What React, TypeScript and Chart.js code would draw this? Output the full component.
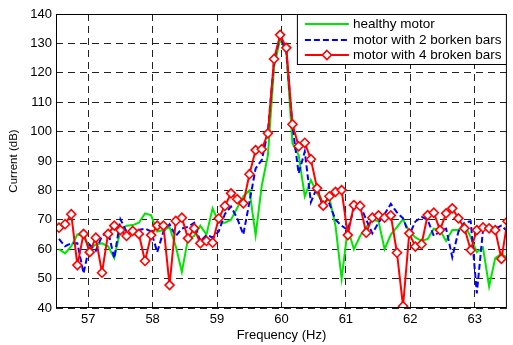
import React, { useEffect, useRef } from 'react';
import { Chart, registerables } from 'chart.js';

Chart.register(...registerables);

// Frequency grid (Hz) of the spectrum samples
const freqHz = [
  56.546, 56.641, 56.737, 56.832, 56.928, 57.023, 57.118, 57.214, 57.309, 57.405,
  57.500, 57.595, 57.691, 57.786, 57.882, 57.977, 58.072, 58.168, 58.263, 58.359,
  58.454, 58.549, 58.645, 58.740, 58.836, 58.931, 59.026, 59.122, 59.217, 59.313,
  59.408, 59.503, 59.599, 59.694, 59.790, 59.885, 59.980, 60.076, 60.171, 60.267,
  60.362, 60.457, 60.553, 60.648, 60.744, 60.839, 60.934, 61.030, 61.125, 61.221,
  61.316, 61.411, 61.507, 61.602, 61.698, 61.793, 61.888, 61.984, 62.079, 62.175,
  62.270, 62.365, 62.461, 62.556, 62.652, 62.747, 62.842, 62.938, 63.033, 63.129,
  63.224, 63.319, 63.415, 63.510,
];

// Current spectrum (dB)
const healthyMotor = [
  60, 58.6, 61, 65, 64.5, 60.5, 61.5, 62, 61, 57,
  66.5, 68, 68.2, 69, 72.2, 71.5, 66, 66.5, 67.5, 61,
  52.3, 63.5, 64.5, 68, 65, 73.9, 69, 69, 70, 74,
  78, 80, 64.8, 81.5, 92, 122, 131.5, 127, 96, 92,
  78, 83.5, 79, 75.6, 77.5, 68, 50, 67, 60, 64.5,
  67.5, 70, 69.5, 60, 65, 67.5, 70.2, 66, 64, 62.8,
  63.5, 67, 66.5, 62.8, 66.5, 66.5, 68.5, 64, 59, 60.5,
  47.3, 57, 58.5, 57,
];

const twoBrokenBars = [
  63.5, 61, 62, 62, 51.8, 61.5, 59.5, 64.5, 66, 56.9,
  70.2, 66, 67, 66.5, 67, 66, 59, 66, 68.5, 64.5,
  67, 67.6, 69, 62.6, 64.8, 64, 66, 72, 74.5, 70.5,
  65, 76, 87.5, 90.3, 100, 124, 132.5, 127, 102, 85.8,
  93.2, 76, 81, 74, 75.5, 70, 68, 66.5, 73.9, 75,
  70, 65.4, 69, 72, 75.4, 72.5, 70.5, 64.8, 69.4, 71,
  70, 64.5, 66, 67, 57.3, 66, 69, 69.5, 45, 66.5,
  67.6, 67, 68, 66,
];

const fourBrokenBars = [
  67.3, 68.5, 71.9, 54.6, 65.2, 59.0, 63.9, 52, 65.2, 68.0,
  66.5, 64.5, 66.2, 65.2, 56.0, 64.8, 68.0, 68.0, 47.8, 69.6,
  70.7, 63.7, 67.1, 62.0, 62.8, 62.2, 70.5, 74.7, 79.0, 77.0,
  75.6, 85.5, 93.7, 94.0, 99.4, 124.7, 132.9, 128.5, 102.5, 95.0,
  96.2, 90.6, 80.7, 74.8, 78.0, 79.5, 80.1, 64.8, 75.0, 74.7,
  65.6, 70.7, 71.5, 70.7, 71.5, 58.8, 40.6, 65.4, 60.9, 61.7,
  71.6, 72.4, 66.5, 72.2, 73.9, 70.5, 67.1, 59.7, 66.5, 67.4,
  67.1, 66.5, 56.7, 69.5,
];

const seriesLabels = ['healthy motor', 'motor with 2 borken bars', 'motor with 4 broken bars'];
const xTickValues = [57, 58, 59, 60, 61, 62, 63];
const xLabel = 'Frequency (Hz)';
const yLabel = 'Current (dB)';

const FONT = '"Liberation Sans", Arial, Helvetica, sans-serif';

const toPoints = (ys: number[]) => ys.map((y, i) => ({ x: freqHz[i], y }));

const drawDiamond = (ctx: CanvasRenderingContext2D, x: number, y: number, r: number) => {
  ctx.beginPath();
  ctx.moveTo(x, y - r);
  ctx.lineTo(x + r, y);
  ctx.lineTo(x, y + r);
  ctx.lineTo(x - r, y);
  ctx.closePath();
  ctx.fillStyle = '#fff';
  ctx.fill();
  ctx.stroke();
};

const frameAndLegend = {
  id: 'frameAndLegend',
  afterDatasetsDraw(chart: any) {
    const { ctx, chartArea: a } = chart;
    ctx.save();
    ctx.setLineDash([]);
    ctx.strokeStyle = '#000';
    ctx.lineWidth = 1;
    ctx.strokeRect(a.left + 0.5, a.top + 0.5, a.right - a.left - 1, a.bottom - a.top - 1);

    // legend box
    const w = 210;
    const h = 51;
    const x0 = a.right - w;
    const y0 = a.top;
    ctx.fillStyle = '#fff';
    ctx.fillRect(x0, y0, w, h);
    ctx.strokeStyle = '#000';
    ctx.strokeRect(x0 + 0.5, y0 + 0.5, w - 1, h - 1);

    const rows = [10, 26, 41];
    chart.data.datasets.forEach((ds: any, i: number) => {
      const yy = y0 + rows[i];
      ctx.save();
      ctx.strokeStyle = ds.borderColor;
      ctx.lineWidth = ds.borderWidth;
      ctx.setLineDash(ds.borderDash || []);
      ctx.beginPath();
      ctx.moveTo(x0 + 8, yy);
      ctx.lineTo(x0 + 52, yy);
      ctx.stroke();
      ctx.setLineDash([]);
      if (ds.pointRadius > 0) {
        ctx.lineWidth = ds.pointBorderWidth;
        drawDiamond(ctx, x0 + 30, yy, ds.pointRadius);
      }
      ctx.restore();
      ctx.fillStyle = '#000';
      ctx.font = `13.5px ${FONT}`;
      ctx.textAlign = 'left';
      ctx.textBaseline = 'middle';
      ctx.fillText(ds.label, x0 + 56, yy);
    });
    ctx.restore();
  },
};

export default function App() {
  const canvasRef = useRef<HTMLCanvasElement | null>(null);

  useEffect(() => {
    const canvas = canvasRef.current;
    if (!canvas) return;
    const chart = new Chart(canvas, {
      type: 'line',
      data: {
        datasets: [
          {
            label: seriesLabels[0],
            data: toPoints(healthyMotor),
            borderColor: '#00e600',
            borderWidth: 2,
            pointRadius: 0,
            tension: 0,
            order: 2,
            clip: 0,
          },
          {
            label: seriesLabels[1],
            data: toPoints(twoBrokenBars),
            borderColor: '#0000ff',
            borderWidth: 2,
            borderDash: [6, 3],
            pointRadius: 0,
            tension: 0,
            order: 1,
            clip: 0,
          },
          {
            label: seriesLabels[2],
            data: toPoints(fourBrokenBars),
            borderColor: '#ff0000',
            borderWidth: 2,
            pointStyle: 'rectRot',
            pointRadius: 4.5,
            pointBorderWidth: 1.6,
            pointBorderColor: '#ff0000',
            pointBackgroundColor: '#ffffff',
            tension: 0,
            order: 0,
            clip: 0,
          } as any,
        ],
      },
      options: {
        animation: false,
        responsive: false,
        maintainAspectRatio: false,
        layout: { padding: { top: 14, right: 1, left: 0, bottom: 0 } },
        plugins: {
          legend: { display: false },
          tooltip: { enabled: false },
        },
        scales: {
          x: {
            type: 'linear',
            min: 56.5,
            max: 63.5,
            afterBuildTicks: (s: any) => {
              s.ticks = xTickValues.map((v) => ({ value: v }));
            },
            afterFit: (s: any) => {
              s.height = 37;
            },
            grid: { color: '#222', lineWidth: 1, drawTicks: false },
            border: { display: false, dash: [7, 5] },
            ticks: {
              color: '#000',
              padding: 4,
              font: { family: FONT, size: 13 },
              maxRotation: 0,
              callback: (v: any) => String(v),
            },
            title: {
              display: true,
              text: xLabel,
              color: '#000',
              font: { family: FONT, size: 13 },
              padding: { top: 0, bottom: 2 },
            },
          },
          y: {
            type: 'linear',
            min: 40,
            max: 140,
            afterFit: (s: any) => {
              s.width = 56;
            },
            grid: { color: '#222', lineWidth: 1, drawTicks: false },
            border: { display: false, dash: [7, 5] },
            ticks: {
              stepSize: 10,
              color: '#000',
              padding: 4,
              font: { family: FONT, size: 13 },
            },
            title: {
              display: true,
              text: yLabel,
              color: '#000',
              font: { family: FONT, size: 11.5 },
              padding: { top: 7, bottom: 0 },
            },
          },
        },
      },
      plugins: [frameAndLegend],
    });
    return () => chart.destroy();
  }, []);

  return (
    <div style={{ position: 'absolute', left: 0, top: 0, width: 513, height: 345, background: '#fff' }}>
      <canvas ref={canvasRef} width={513} height={345} />
    </div>
  );
}
